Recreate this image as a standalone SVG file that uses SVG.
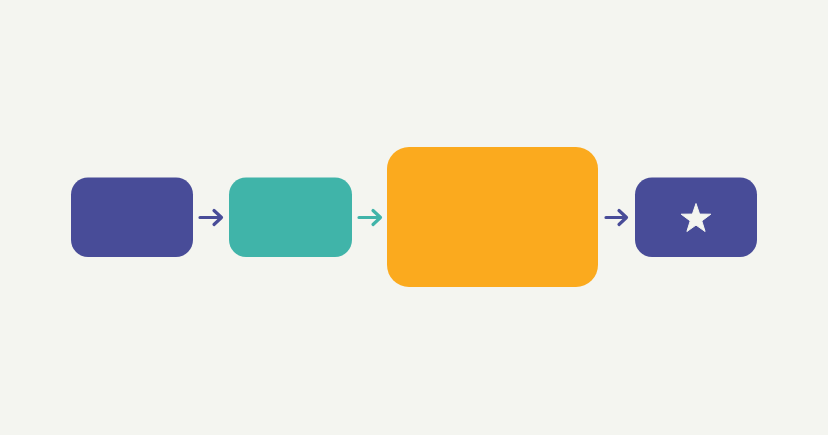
<svg xmlns="http://www.w3.org/2000/svg" width="828" height="435" viewBox="0 0 828 435">
<style>
.purple{fill:#484C98}
.teal{fill:#40B4A9}
.orange{fill:#FBAA1E}
.arrow{fill:none;stroke-width:3.2;stroke-linecap:round;stroke-linejoin:round}
</style>
<rect width="828" height="435" fill="#F4F5F0"/>
<g id="connectors">
<g class="arrow" stroke="#484C98"><path d="M200 217.5 H221 M214 210.5 L221.5 217.5 L214 224.5"/></g>
<g class="arrow" stroke="#40B4A9"><path d="M359 217.5 H380 M373 210.5 L380.5 217.5 L373 224.5"/></g>
<g class="arrow" stroke="#484C98"><path d="M606 217.5 H626 M619 210.5 L626.5 217.5 L619 224.5"/></g>
</g>
<g id="node1"><rect class="purple" x="71" y="177.5" width="122" height="79.5" rx="17"/></g>
<g id="node2"><rect class="teal" x="229" y="177.5" width="123" height="79.5" rx="17"/></g>
<g id="node3"><rect class="orange" x="387" y="147" width="211" height="140" rx="22"/></g>
<g id="node4"><rect class="purple" x="635" y="177.5" width="122" height="79.5" rx="17"/>
<polygon fill="#F4F5F0" stroke="#F4F5F0" stroke-width="1" stroke-linejoin="round" points="696,203.5 699.6,214.1 710.8,214.2 701.8,220.9 705.1,231.5 696,225.1 686.9,231.5 690.2,220.9 681.2,214.2 692.4,214.1"/>
</g>
</svg>
